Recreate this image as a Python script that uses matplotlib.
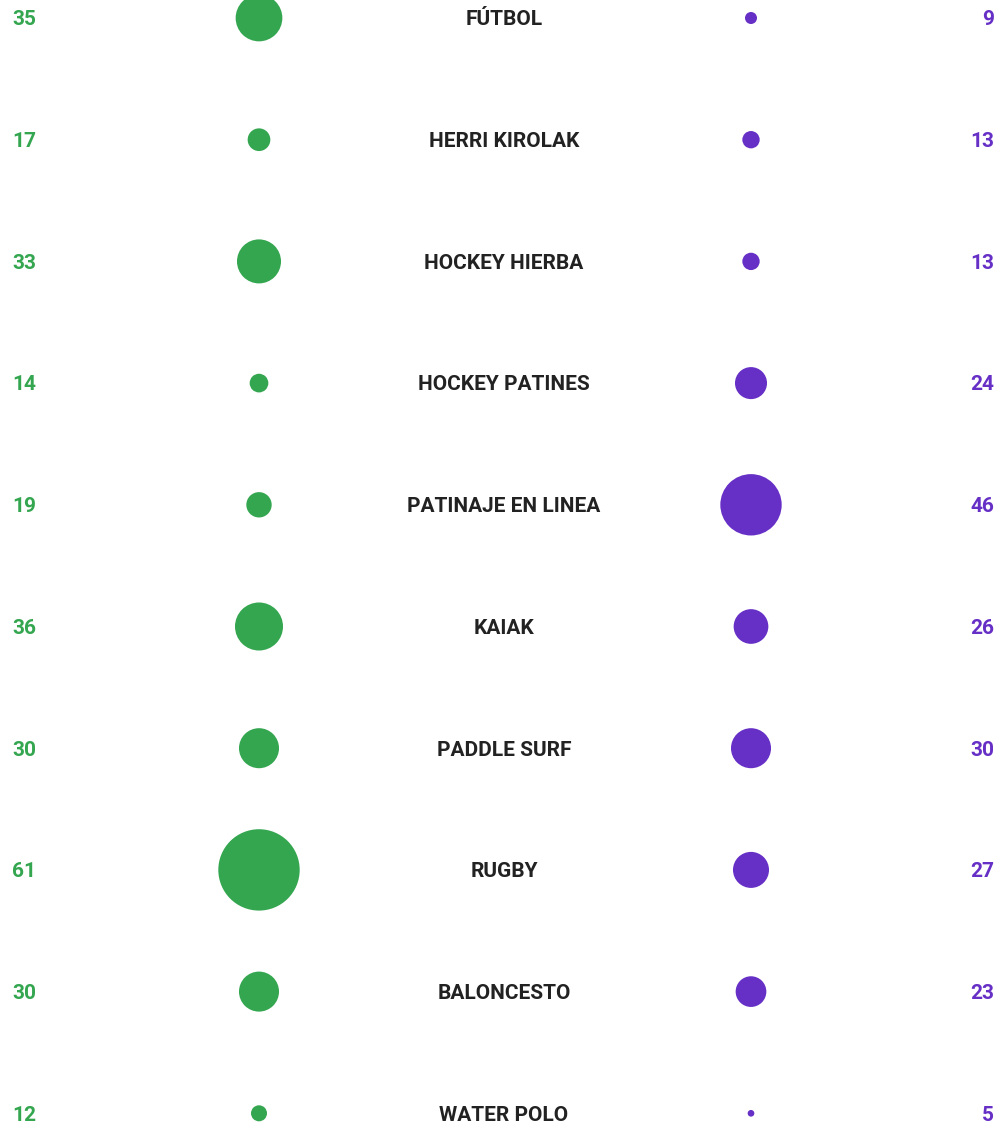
import matplotlib.pyplot as plt
from matplotlib.patches import Circle

# Sports and the two counts per sport (green = left column, purple = right column)
sports = ['FÚTBOL', 'HERRI KIROLAK', 'HOCKEY HIERBA', 'HOCKEY PATINES',
          'PATINAJE EN LINEA', 'KAIAK', 'PADDLE SURF', 'RUGBY',
          'BALONCESTO', 'WATER POLO']
left_vals = [35, 17, 33, 14, 19, 36, 30, 61, 30, 12]
right_vals = [9, 13, 13, 24, 46, 26, 30, 27, 23, 5]

green = '#34a650'
purple = '#662fc6'
dark = '#222222'

W, H = 998, 1129
fig = plt.figure(figsize=(W / 100, H / 100), dpi=100)
ax = fig.add_axes([0, 0, 1, 1])
ax.set_xlim(0, W)
ax.set_ylim(H, 0)
ax.axis('off')

font = dict(family=['Roboto', 'DejaVu Sans'], fontweight='bold', fontsize=15)
scale = 0.667   # circle radius per unit
y0, step = 18, 121.7
base = 7.4      # half cap height, puts the text centre on the row

for i, name in enumerate(sports):
    y = y0 + i * step
    ax.text(12, y + base, str(left_vals[i]), color=green, ha='left', va='baseline', **font)
    ax.add_patch(Circle((259, y), left_vals[i] * scale, color=green, lw=0))
    ax.text(504, y + base, name, color=dark, ha='center', va='baseline', **font)
    ax.add_patch(Circle((751, y), right_vals[i] * scale, color=purple, lw=0))
    ax.text(994, y + base, str(right_vals[i]), color=purple, ha='right', va='baseline', **font)

fig.savefig('out.png', dpi=100)
